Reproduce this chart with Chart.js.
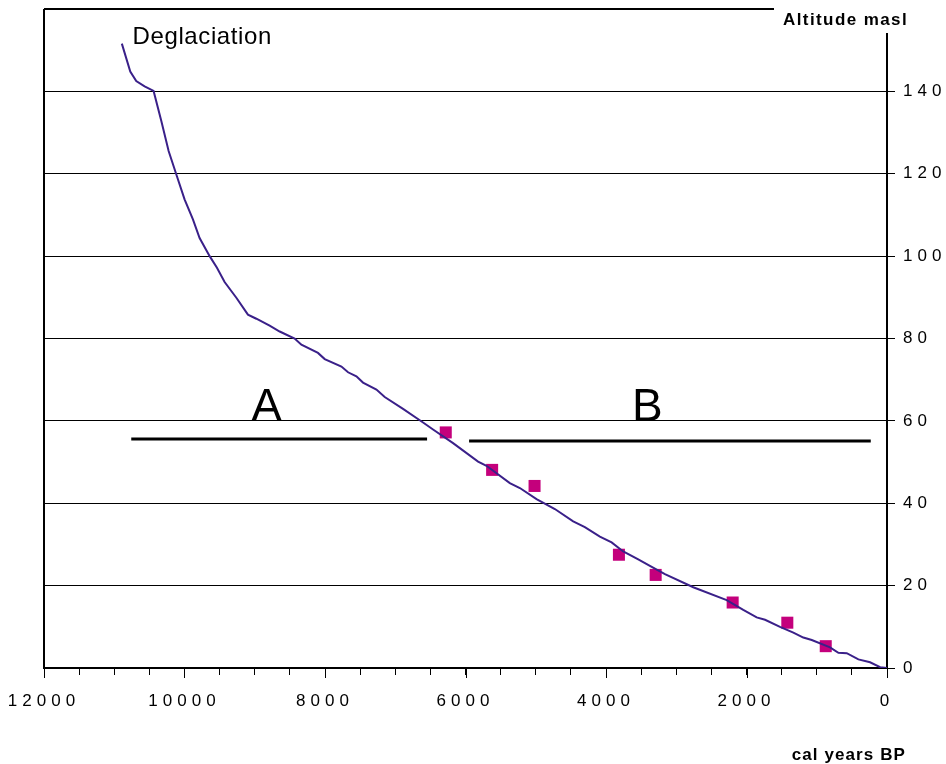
<!DOCTYPE html>
<html>
<head>
<meta charset="utf-8">
<script src="https://cdn.jsdelivr.net/npm/chart.js@4/dist/chart.umd.min.js"></script>
<style>
html, body { margin: 0; padding: 0; background: #fff; }
</style>
</head>
<body>
<canvas id="chart" width="946" height="764"></canvas>
<script>
// shoreline displacement curve, cal years BP vs altitude (m a.s.l.)
var curveYears = [10892, 10772, 10687, 10568, 10440, 10330, 10226, 10108, 9999, 9880,
  9785, 9642, 9538, 9429, 9262, 9097, 8977, 8788, 8645, 8432,
  8336, 8100, 8004, 7766, 7672, 7553, 7459, 7268, 7150, 6889,
  6604, 6462, 6177, 5821, 5701, 5369, 5226, 4989, 4728, 4467,
  4301, 4087, 3920, 3755, 3541, 3375, 3161, 2758, 2282, 2046,
  1855, 1736, 1523, 1333, 1191, 1071, 811, 692, 573, 407,
  241, 98, 0];
var curveAlt = [151.6, 144.8, 142.5, 141.2, 140.1, 132.8, 125.5, 119.4, 113.8, 108.9,
  104.4, 100.0, 97.2, 93.7, 89.9, 85.8, 84.8, 83.1, 81.7, 80.0,
  78.5, 76.5, 75.0, 73.2, 71.8, 70.8, 69.3, 67.6, 65.8, 62.9,
  59.6, 57.9, 54.6, 50.1, 49.1, 44.9, 43.7, 41.0, 38.6, 35.6,
  34.2, 31.9, 30.5, 28.3, 26.4, 24.8, 22.8, 19.6, 16.5, 14.1,
  12.3, 11.7, 10.0, 8.6, 7.4, 6.8, 5.0, 3.7, 3.6, 2.1,
  1.4, 0.2, 0];

// dated samples
var sampleYears = [6281, 5621, 5017, 3816, 3293, 2197, 1419, 872];
var sampleAlt = [57.2, 48.1, 44.2, 27.5, 22.6, 15.9, 11.0, 5.3];

// periods A and B
var periodAYears = [10758, 6547];
var periodAAlt = [55.6, 55.6];
var periodBYears = [5949, 231];
var periodBAlt = [55.1, 55.1];

var xTitle = 'cal years BP';
var yTitle = 'Altitude masl';
var labelTexts = ['Deglaciation', 'A', 'B'];
var labelYears = [10739, 8830, 3410];
var labelAlt = [151.4, 59.9, 59.9];

function toPoints(xs, ys) {
  var pts = [];
  for (var i = 0; i < xs.length; i++) {
    pts.push({x: xs[i], y: ys[i]});
  }
  return pts;
}

var decor = {
  id: 'decor',
  beforeDraw: function(chart) {
    chart.ctx.letterSpacing = '5px';
  },
  afterDraw: function(chart) {
    var ctx = chart.ctx, a = chart.chartArea;
    var sx = chart.scales.x, sy = chart.scales.y;
    ctx.save();
    ctx.letterSpacing = '0px';
    ctx.strokeStyle = '#000';
    ctx.lineWidth = 2;
    ctx.beginPath();
    ctx.moveTo(a.left, a.top);
    ctx.lineTo(a.left, a.bottom);
    ctx.stroke();

    // longer ticks at every 2000 years
    ctx.lineWidth = 1;
    for (var t = 0; t <= 12000; t += 2000) {
      var px = Math.round(sx.getPixelForValue(t)) + 0.5;
      ctx.beginPath();
      ctx.moveTo(px, a.bottom);
      ctx.lineTo(px, a.bottom + 10);
      ctx.stroke();
    }

    // white box behind the axis title, top right
    ctx.fillStyle = '#fff';
    ctx.fillRect(774, 0, 172, 33);

    ctx.fillStyle = '#000';
    ctx.textBaseline = 'alphabetic';
    ctx.textAlign = 'right';
    ctx.font = 'bold 17px "Liberation Sans", Arial, sans-serif';
    ctx.letterSpacing = '1.4px';
    ctx.fillText(yTitle, 908, 25);
    ctx.letterSpacing = '1.1px';
    ctx.fillText(xTitle, 906, 760);

    ctx.letterSpacing = '0.6px';
    ctx.textAlign = 'left';
    ctx.font = '24px "Liberation Sans", Arial, sans-serif';
    ctx.fillText(labelTexts[0], sx.getPixelForValue(labelYears[0]), sy.getPixelForValue(labelAlt[0]));

    ctx.letterSpacing = '0px';
    ctx.textAlign = 'center';
    ctx.font = '46px "Liberation Sans", Arial, sans-serif';
    for (var i = 1; i < labelTexts.length; i++) {
      ctx.fillText(labelTexts[i], sx.getPixelForValue(labelYears[i]), sy.getPixelForValue(labelAlt[i]));
    }
    ctx.restore();
    ctx.letterSpacing = '0px';
  }
};

new Chart(document.getElementById('chart'), {
  type: 'scatter',
  data: {
    datasets: [
      {
        label: 'curve',
        data: toPoints(curveYears, curveAlt),
        showLine: true,
        borderColor: '#3a2089',
        borderWidth: 2,
        pointRadius: 0,
        tension: 0
      },
      {
        label: 'A',
        data: toPoints(periodAYears, periodAAlt),
        showLine: true,
        borderColor: '#000',
        borderWidth: 3,
        pointRadius: 0
      },
      {
        label: 'B',
        data: toPoints(periodBYears, periodBAlt),
        showLine: true,
        borderColor: '#000',
        borderWidth: 3,
        pointRadius: 0
      },
      {
        label: 'samples',
        data: toPoints(sampleYears, sampleAlt),
        showLine: false,
        pointStyle: 'rect',
        pointRadius: 8.5,
        backgroundColor: '#c4007c',
        borderColor: '#c4007c',
        borderWidth: 0
      }
    ]
  },
  options: {
    responsive: false,
    animation: false,
    events: [],
    layout: { padding: { left: 44, top: 9, right: 0, bottom: 0 } },
    plugins: {
      legend: { display: false },
      title: { display: false },
      tooltip: { enabled: false }
    },
    scales: {
      x: {
        type: 'linear',
        position: 'bottom',
        reverse: true,
        min: 0,
        max: 12000,
        afterFit: function(s) {
          s.height = 96;
          s.paddingLeft = 0;
          s.paddingRight = 0;
        },
        border: { display: true, color: '#000', width: 2 },
        grid: { drawOnChartArea: false, color: '#000', tickLength: 7, tickWidth: 1 },
        ticks: {
          stepSize: 500,
          autoSkip: false,
          maxRotation: 0,
          padding: 16,
          color: '#000',
          font: { family: '"Liberation Sans", Arial, sans-serif', size: 17 },
          callback: function(v) { return v % 2000 === 0 ? String(v) : ''; }
        }
      },
      y: {
        type: 'linear',
        position: 'right',
        min: 0,
        max: 160,
        afterFit: function(s) {
          s.width = 59;
          s.paddingTop = 0;
          s.paddingBottom = 0;
        },
        border: { display: true, color: '#000', width: 2 },
        grid: {
          color: '#000',
          lineWidth: function(c) { return c.tick && c.tick.value === 160 ? 2 : 1; },
          tickLength: 8
        },
        ticks: {
          stepSize: 20,
          padding: 8,
          color: '#000',
          font: { family: '"Liberation Sans", Arial, sans-serif', size: 17 },
          callback: function(v) { return v === 160 ? '' : String(v); }
        }
      }
    }
  },
  plugins: [decor]
});
</script>
</body>
</html>
